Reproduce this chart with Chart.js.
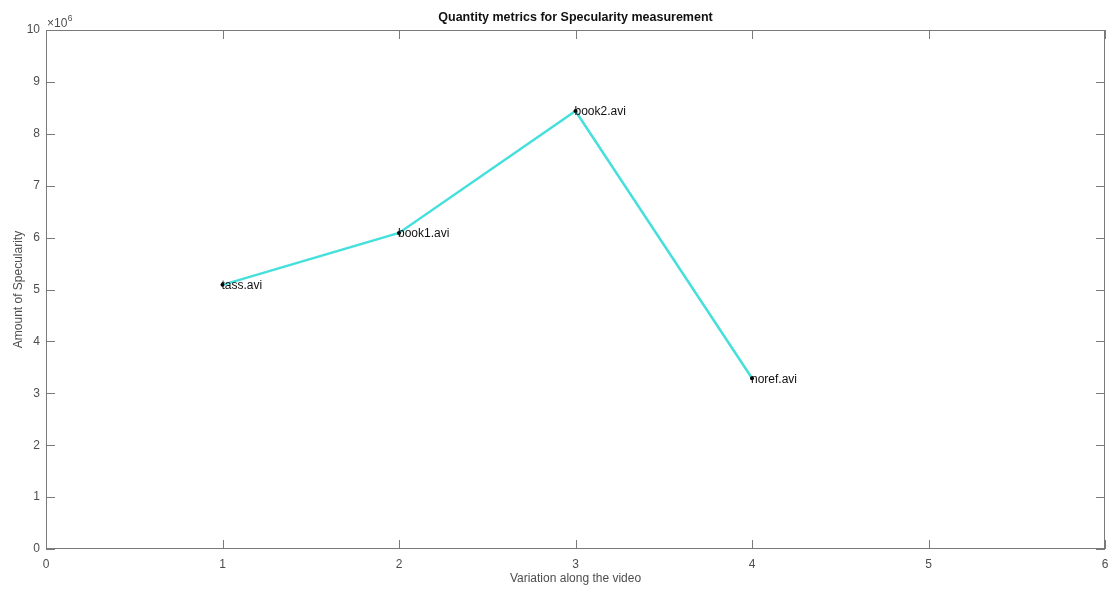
<!DOCTYPE html>
<html><head><meta charset="utf-8">
<script src="https://cdn.jsdelivr.net/npm/chart.js@4.4.0/dist/chart.umd.min.js"></script>
<style>html,body{margin:0;padding:0;background:#fff}#w{width:1110px;height:592px}</style>
</head><body><div id="w"><canvas id="c"></canvas></div>
<script>
const xPositions = [1, 2, 3, 4];
const videoNames = ["tass.avi", "book1.avi", "book2.avi", "noref.avi"];
const specularity = [5.09e6, 6.09e6, 8.44e6, 3.29e6];
const xTicks = [0, 1, 2, 3, 4, 5, 6];
const yTicks = [0, 1, 2, 3, 4, 5, 6, 7, 8, 9, 10];
const FONT = "'Liberation Sans', Arial, sans-serif";
const AXC = '#4d4d4d';

const boxPlugin = {
  id: 'box',
  afterDraw(chart) {
    const {ctx, chartArea: a, scales: {x, y}} = chart;
    ctx.save();
    ctx.strokeStyle = '#7a7a7a';
    ctx.lineWidth = 1;
    ctx.strokeRect(a.left + 0.5, a.top + 0.5, a.right - a.left - 1, a.bottom - a.top - 1);
    ctx.beginPath();
    const tl = 9;
    xTicks.forEach(v => {
      const px = Math.round(x.getPixelForValue(v)) + 0.5;
      ctx.moveTo(px, a.bottom); ctx.lineTo(px, a.bottom - tl);
      ctx.moveTo(px, a.top); ctx.lineTo(px, a.top + tl);
    });
    yTicks.forEach(v => {
      const py = Math.round(y.getPixelForValue(v * 1e6)) + 0.5;
      ctx.moveTo(a.left, py); ctx.lineTo(a.left + tl, py);
      ctx.moveTo(a.right, py); ctx.lineTo(a.right - tl, py);
    });
    ctx.stroke();
    // exponent label
    ctx.fillStyle = AXC;
    ctx.font = '12px ' + FONT;
    ctx.textBaseline = 'alphabetic';
    ctx.textAlign = 'left';
    ctx.fillText('\u00d710', a.left + 1, a.top - 3);
    const w = ctx.measureText('\u00d710').width;
    ctx.font = '8.5px ' + FONT;
    ctx.fillText('6', a.left + 1 + w + 0.5, a.top - 9);
    // point labels
    const meta = chart.getDatasetMeta(0);
    ctx.fillStyle = '#111';
    ctx.font = '12px ' + FONT;
    ctx.textBaseline = 'middle';
    meta.data.forEach((pt, i) => {
      ctx.fillText(videoNames[i], pt.x - 1, pt.y + 1);
    });
    ctx.restore();
  }
};

new Chart(document.getElementById('c'), {
  type: 'line',
  data: {
    datasets: [{
      data: xPositions.map((xv, i) => ({x: xv, y: specularity[i]})),
      borderColor: '#45dfdc',
      borderWidth: 2.5,
      pointRadius: 2,
      pointBackgroundColor: '#000',
      pointBorderColor: '#000',
      pointBorderWidth: 0,
      tension: 0
    }]
  },
  options: {
    responsive: true,
    maintainAspectRatio: false,
    animation: false,
    layout: {padding: {left: 11, right: 0, top: 0, bottom: 0}},
    plugins: {
      legend: {display: false},
      tooltip: {enabled: false},
      title: {
        display: true,
        fullSize: false,
        text: 'Quantity metrics for Specularity measurement',
        color: '#111',
        font: {family: FONT, size: 12.5, weight: 'bold'},
        padding: {top: 10, bottom: 5}
      }
    },
    scales: {
      x: {
        type: 'linear', min: 0, max: 6,
        afterBuildTicks(s) { s.ticks = xTicks.map(v => ({value: v})); },
        afterFit(s) { s.height = 43; s.paddingRight = 5; },
        grid: {display: false, drawTicks: false},
        border: {display: false},
        ticks: {color: AXC, font: {family: FONT, size: 12}, padding: 8, maxRotation: 0},
        title: {display: true, text: 'Variation along the video', color: AXC,
                font: {family: FONT, size: 12}, padding: {top: 0, bottom: 6}}
      },
      y: {
        type: 'linear', min: 0, max: 10e6,
        afterBuildTicks(s) { s.ticks = yTicks.map(v => ({value: v * 1e6})); },
        afterFit(s) { s.width = 35; },
        grid: {display: false, drawTicks: false},
        border: {display: false},
        ticks: {color: AXC, font: {family: FONT, size: 12}, padding: 6,
                callback: v => String(v / 1e6)},
        title: {display: true, text: 'Amount of Specularity', color: AXC,
                font: {family: FONT, size: 12}, padding: {top: 0, bottom: 0}}
      }
    }
  },
  plugins: [boxPlugin]
});
</script></body></html>
